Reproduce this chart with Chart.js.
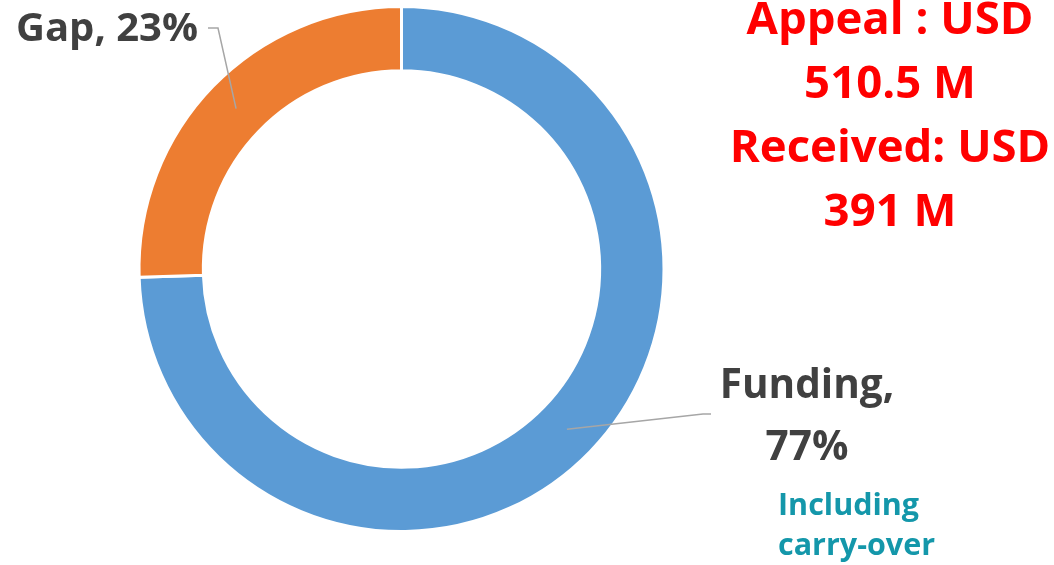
<!DOCTYPE html>
<html>
<head>
<meta charset="utf-8">
<script src="https://cdn.jsdelivr.net/npm/chart.js@4"></script>
<style>
  body { margin: 0; background: #fff; }
  #wrap { width: 1054px; height: 565px; position: relative; }
</style>
</head>
<body>
<div id="wrap"><canvas id="donut"></canvas></div>
<script>
const categories = ["Funding", "Gap"];
// slice sizes as drawn in the picture; the printed labels read 77% / 23%
const shares = [74.5, 25.5];
const shareLabels = ["77%", "23%"];
const sliceColors = ["#5B9BD5", "#ED7D31"];
const summaryLines = ["Appeal : USD", "510.5 M", "Received: USD", "391 M"];
const noteLines = ["Including", "carry-over"];

const FONT = "'Open Sans', Lato, sans-serif";

const labelPlugin = {
  id: "labels",
  afterDraw(chart) {
    const c = chart.ctx;
    const arcs = chart.getDatasetMeta(0).data;
    c.save();

    // leader lines from slice centres out to the labels
    c.strokeStyle = "#A6A6A6";
    c.lineWidth = 1.5;
    const fund = arcs[0].getCenterPoint();
    c.beginPath();
    c.moveTo(fund.x, fund.y);
    c.lineTo(703, 414);
    c.lineTo(711, 414);
    c.stroke();
    const gap = arcs[1].getCenterPoint();
    c.beginPath();
    c.moveTo(gap.x, gap.y);
    c.lineTo(218, 28);
    c.lineTo(208, 28);
    c.stroke();

    c.fillStyle = "#404040";
    c.textBaseline = "alphabetic";
    c.font = "bold 40px " + FONT;
    c.textAlign = "right";
    c.fillText(categories[1] + ", " + shareLabels[1], 198, 41);
    c.font = "bold 40.5px " + FONT;
    c.textAlign = "center";
    c.fillText(categories[0] + ",", 807, 398);
    c.fillText(shareLabels[0], 807, 460);

    c.fillStyle = "#1497AA";
    c.font = "bold 30.5px " + FONT;
    c.textAlign = "left";
    c.fillText(noteLines[0], 778, 515);
    c.fillText(noteLines[1], 778, 555);

    c.fillStyle = "#FF0000";
    c.font = "bold 45.5px " + FONT;
    c.textAlign = "center";
    summaryLines.forEach((t, i) => c.fillText(t, 890, 34 + i * 64));

    c.restore();
  }
};

new Chart(document.getElementById("donut"), {
  type: "doughnut",
  data: {
    labels: categories,
    datasets: [{
      data: shares,
      backgroundColor: sliceColors,
      borderColor: "#ffffff",
      borderWidth: 3
    }]
  },
  options: {
    responsive: true,
    maintainAspectRatio: false,
    animation: false,
    cutout: "75.5%",
    layout: { padding: { left: 137, right: 388, top: 5, bottom: 32 } },
    plugins: {
      legend: { display: false },
      tooltip: { enabled: false }
    }
  },
  plugins: [labelPlugin]
});
</script>
</body>
</html>
